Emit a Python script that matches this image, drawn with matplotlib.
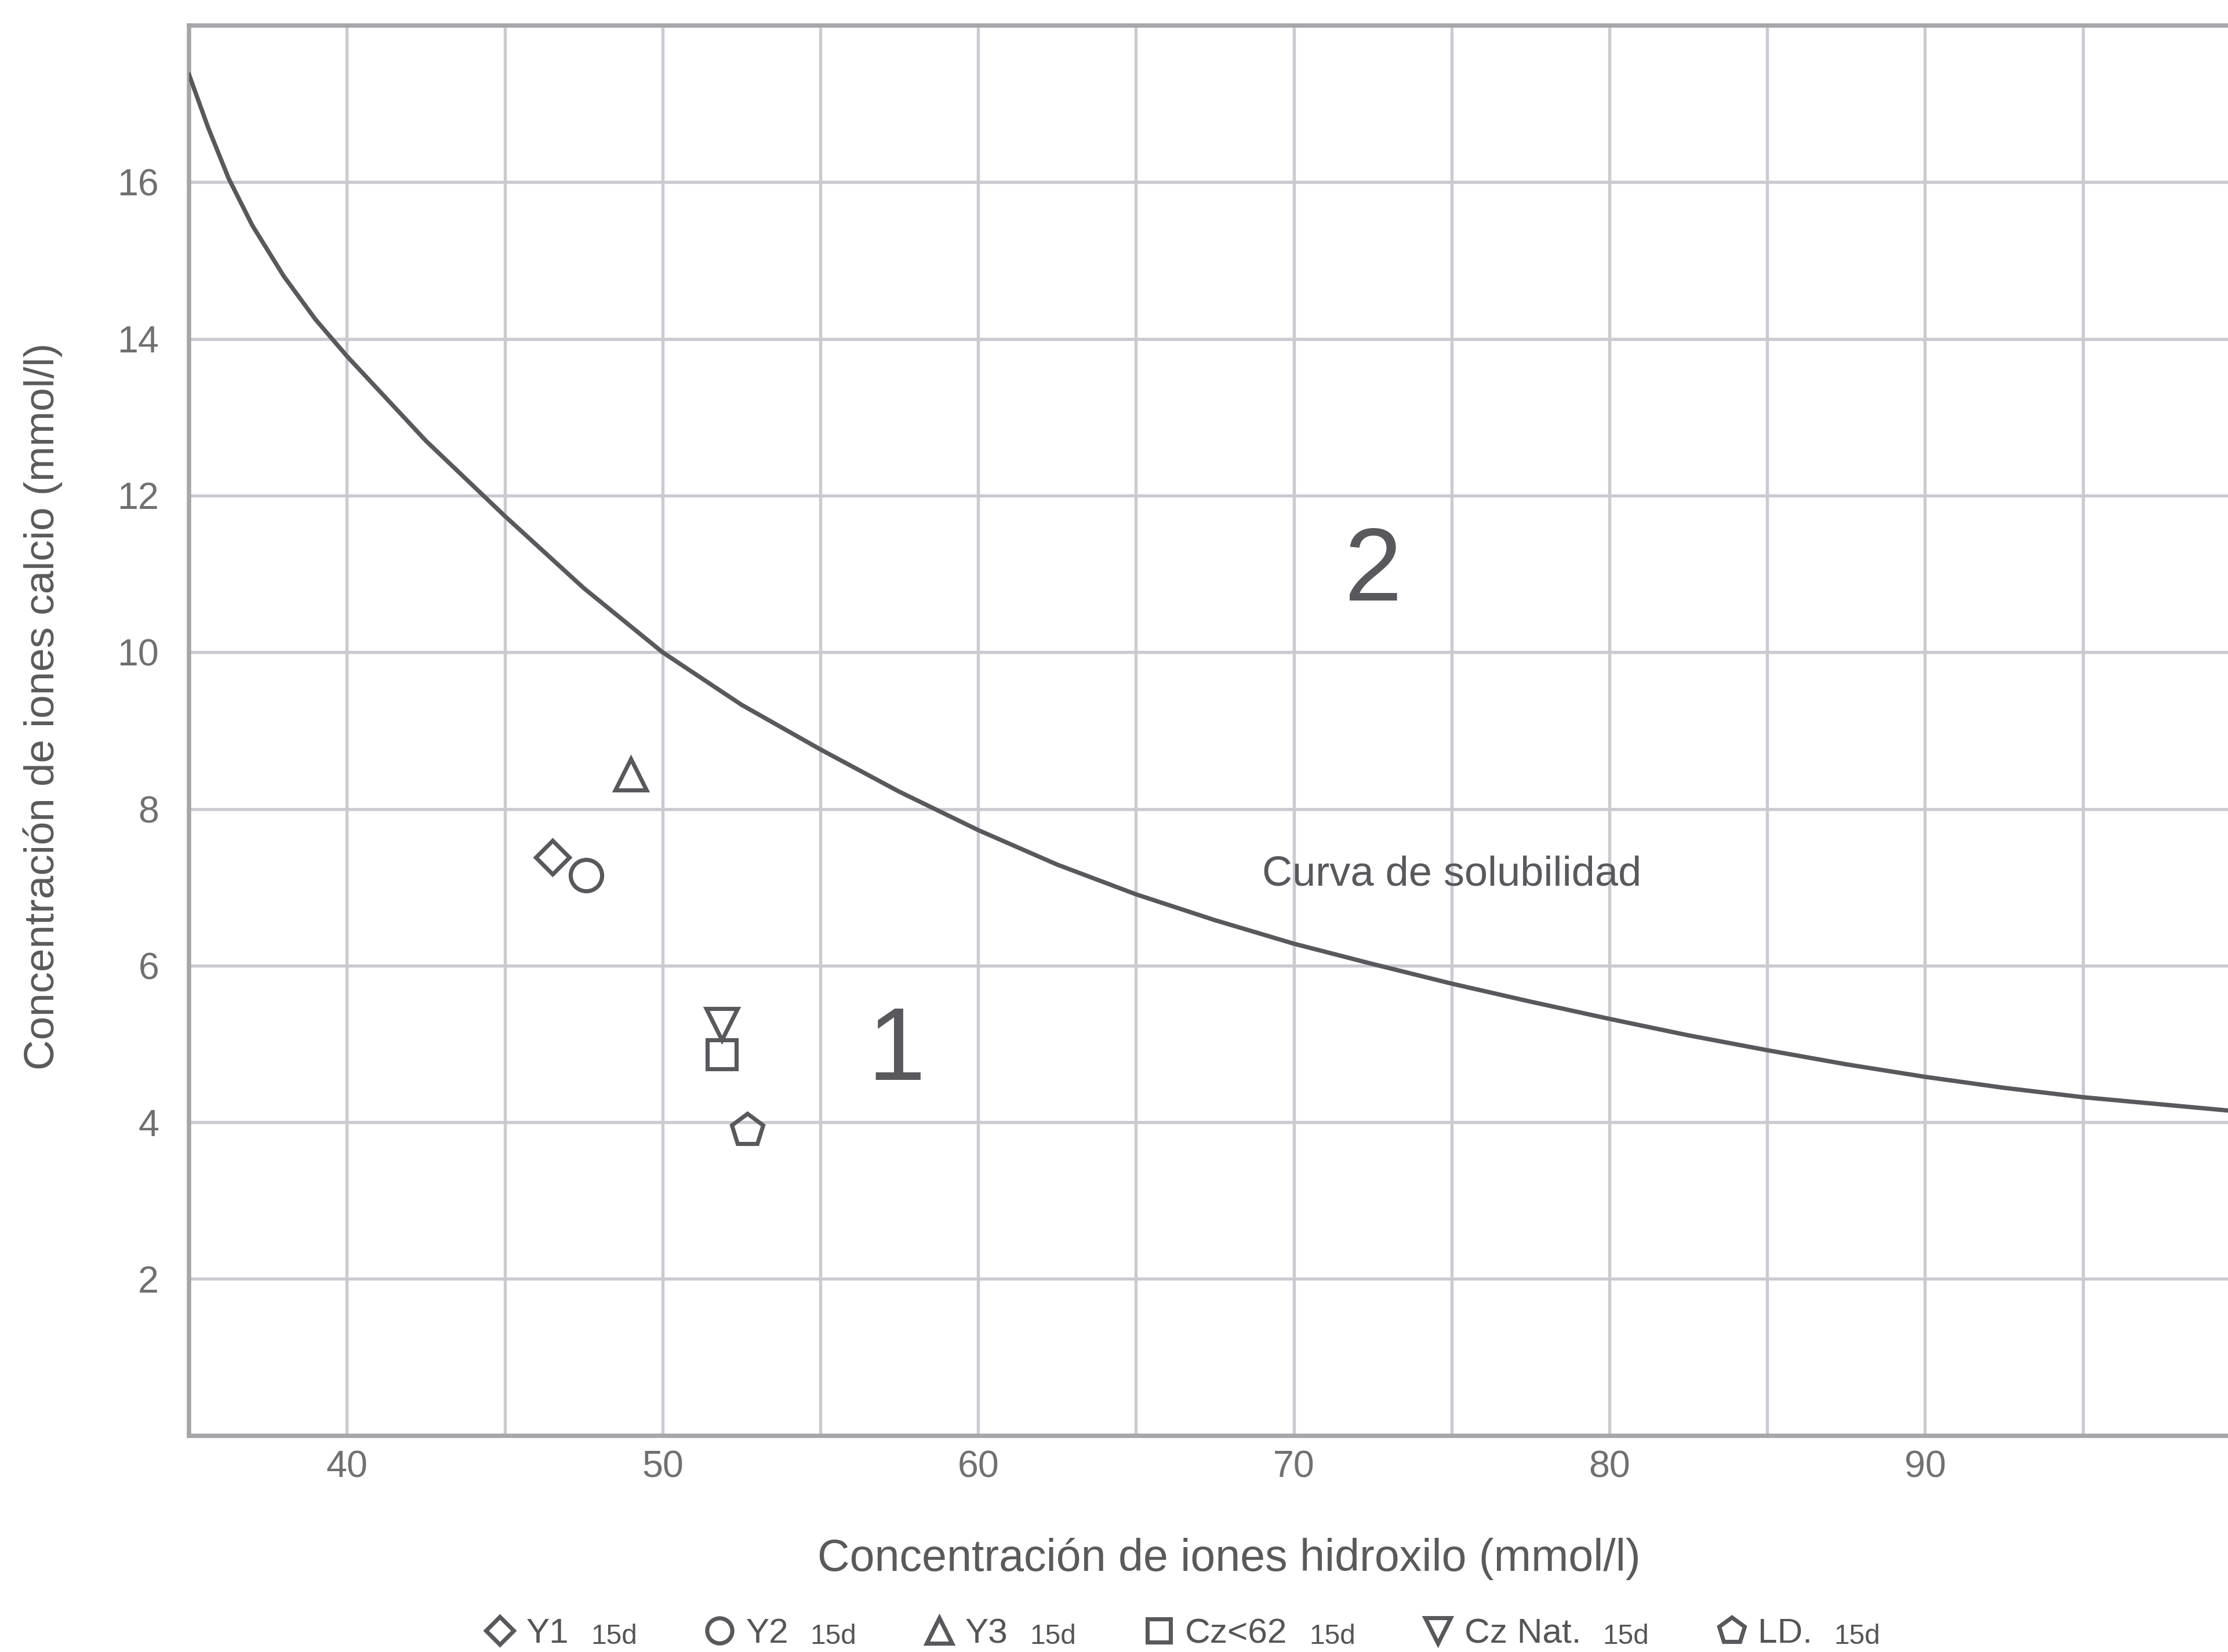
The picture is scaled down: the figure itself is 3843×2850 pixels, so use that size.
import matplotlib
matplotlib.use("Agg")
import matplotlib.pyplot as plt

plt.rcParams['font.family'] = ['Liberation Sans', 'DejaVu Sans']

# curva de solubilidad
curve_x = [35, 35.6, 36.25, 37, 38, 39, 40, 42.5, 45, 47.5, 50, 52.5, 55, 57.5,
           60, 62.5, 65, 67.5, 70, 72.5, 75, 77.5, 80, 82.5, 85, 87.5, 90,
           92.5, 95, 99.6]
curve_y = [17.37, 16.7, 16.05, 15.45, 14.8, 14.25, 13.78, 12.7, 11.74, 10.82,
           10.0, 9.33, 8.76, 8.22, 7.73, 7.29, 6.91, 6.58, 6.28, 6.02, 5.77,
           5.54, 5.32, 5.11, 4.92, 4.74, 4.58, 4.44, 4.32, 4.15]

# muestras a 15 dias
sample_names = ["Y1", "Y2", "Y3", "Cz<62", "Cz Nat.", "LD."]
sample_suffix = "15d"
sample_oh = [46.52, 47.58, 48.99, 51.88, 51.88, 52.68]
sample_ca = [7.38, 7.15, 8.44, 4.87, 5.25, 3.90]

markers = ["D", "o", "^", "s", "v", "p"]
msizes = [10, 13, 13, 11.8, 13, 13.8]

x_ticks = [40, 50, 60, 70, 80, 90]
x_minor = [45, 55, 65, 75, 85, 95]
y_ticks = [2, 4, 6, 8, 10, 12, 14, 16]

dark = "#58585d"
grid_c = "#cacad2"
spine_c = "#a6a6aa"

fig = plt.figure(figsize=(12.81, 9.5), dpi=300)
ax = fig.add_axes([0.0849, 0.131, 0.9151, 0.8535])

ax.plot(curve_x, curve_y, color=dark, lw=1.8, zorder=3)

for name, x, y, m, s in zip(sample_names, sample_oh, sample_ca, markers, msizes):
    ax.plot([x], [y], ls="none", marker=m, ms=s, mfc="none", mec=dark,
            mew=1.7, label=name, zorder=4)

ax.set_xlim(35, 99.6)
ax.set_ylim(0, 18)
ax.set_xticks(x_ticks)
ax.set_xticks(x_minor, minor=True)
ax.set_yticks(y_ticks)
ax.grid(True, which="both", color=grid_c, lw=1.3, zorder=0)
ax.tick_params(which="both", length=0)
ax.tick_params(axis="x", pad=6, labelsize=15.5, labelcolor="#707070")
ax.tick_params(axis="y", pad=12.5, labelsize=15.5, labelcolor="#707070")
ax.set_axisbelow(True)

for side in ["left", "top", "bottom"]:
    ax.spines[side].set_color(spine_c)
    ax.spines[side].set_linewidth(1.8)
ax.spines["right"].set_visible(False)

ax.set_xlabel("Concentración de iones hidroxilo (mmol/l)", fontsize=18.5,
              color="#5a5a5a", va="center")
ax.xaxis.set_label_coords(0.51, -0.0876)
ax.set_ylabel("Concentración de iones calcio (mmol/l)", fontsize=17.5,
              color="#5a5a5a", va="center", ha="center")
ax.yaxis.set_label_coords(-0.0717, 0.517)

ax.text(72.52, 11.0, "2", fontsize=43, color=dark, ha="center", va="center")
ax.text(57.4, 4.88, "1", fontsize=43, color=dark, ha="center", va="center")
ax.text(69.0, 7.16, "Curva de solubilidad", fontsize=17.3, color=dark,
        ha="left", va="center")

leg = fig.legend(loc="center", bbox_to_anchor=(0.515, 0.011), ncol=6,
                 frameon=False, fontsize=14.5, markerscale=0.8,
                 handlelength=1.0, handletextpad=0.25, columnspacing=3.8,
                 borderaxespad=0, labelcolor="#555555")

fig.canvas.draw()
for t in leg.get_texts():
    ax.annotate(sample_suffix, xy=(1, 0), xycoords=t, xytext=(9, 0),
                textcoords="offset points", fontsize=11.5, color="#555555",
                va="bottom", ha="left", annotation_clip=False)

fig.savefig("out.png", dpi=300)
